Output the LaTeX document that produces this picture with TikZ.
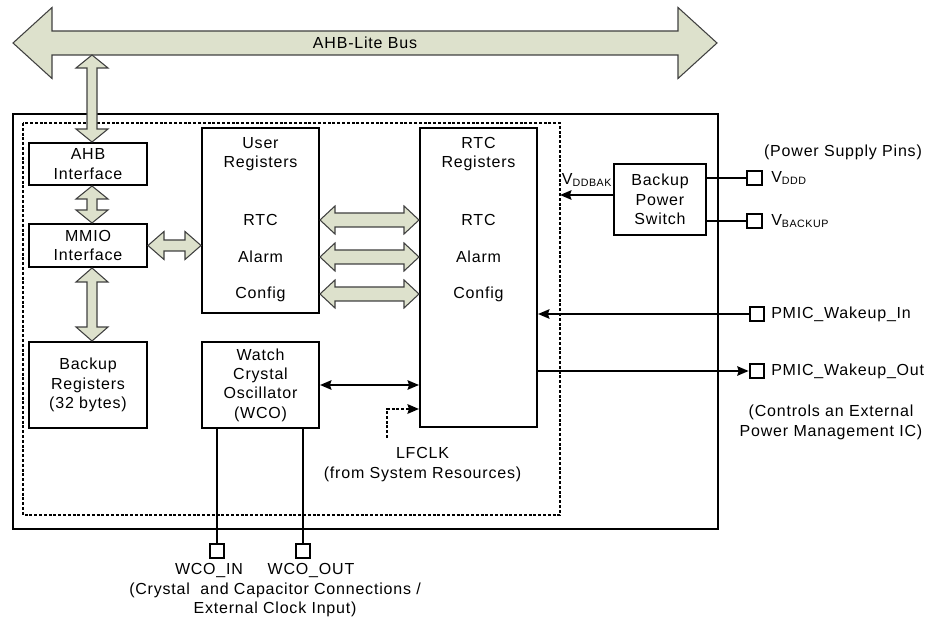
\documentclass[tikz,border=0pt]{standalone}
\usepackage{fontspec}
\setmainfont{Liberation Sans}[LetterSpace=5.0]
\usetikzlibrary{arrows.meta,positioning,calc}

% wide two-headed bus arrows (left/top point, right/bottom point, shaft half, head half, head length)
\newcommand{\fathor}[5]{%
  \path (#1) coordinate (fl) (#2) coordinate (fr);
  \draw[fatarr] (fl) -- ($(fl)+(#5,-#4)$) -- ($(fl)+(#5,-#3)$) -- ($(fr)+(-#5,-#3)$)
    -- ($(fr)+(-#5,-#4)$) -- (fr) -- ($(fr)+(-#5,#4)$) -- ($(fr)+(-#5,#3)$)
    -- ($(fl)+(#5,#3)$) -- ($(fl)+(#5,#4)$) -- cycle;}
\newcommand{\fatver}[5]{%
  \path (#1) coordinate (ft) (#2) coordinate (fb);
  \draw[fatarr] (ft) -- ($(ft)+(#4,#5)$) -- ($(ft)+(#3,#5)$) -- ($(fb)+(#3,-#5)$)
    -- ($(fb)+(#4,-#5)$) -- (fb) -- ($(fb)+(-#4,-#5)$) -- ($(fb)+(-#3,-#5)$)
    -- ($(ft)+(-#3,#5)$) -- ($(ft)+(-#4,#5)$) -- cycle;}

\begin{document}
\begin{tikzpicture}[x=0.75pt,y=-0.75pt,
    font=\fontsize{12}{14.5}\selectfont,
    blk/.style={draw,line width=1.5pt,inner sep=0pt,align=center},
    padbox/.style={draw,line width=1.5pt,inner sep=0pt,minimum width=11pt,minimum height=10.5pt},
    wire/.style={line width=1.5pt},
    tip/.style={-{Stealth[length=8.5pt,width=7pt,inset=1pt]}},
    tips/.style={{Stealth[length=8.5pt,width=7pt,inset=1pt]}-{Stealth[length=8.5pt,width=7pt,inset=1pt]}},
    dotline/.style={line width=2pt,dash pattern=on 2.2pt off 1.4pt},
    fatarr/.style={fill=busgreen,draw=black!75,line width=0.8pt,line join=miter},
    lbl/.style={align=center,inner sep=0pt}]
    \definecolor{busgreen}{RGB}{221,225,204}
    \useasboundingbox (0,0) rectangle (928,620);

    % outer block and dotted backup domain
    \draw[wire] (13,114) rectangle (718,529);
    \draw[dotline] (23,123) rectangle (560,515);
    \coordinate (dotNE) at (560,123);

    % blocks
    \node[blk,minimum width=88.5pt,minimum height=31.5pt] (ahb) at (88,164) {AHB\\Interface};
    \node[blk,minimum width=88.5pt,minimum height=32.25pt] (mmio) at (88,245.5) {MMIO\\Interface};
    \node[blk,minimum width=88.5pt,minimum height=64.5pt] (bkreg) at (88,385) {Backup\\Registers\\(32 bytes)};
    \node[blk,minimum width=87.75pt,minimum height=138.75pt] (user) at (260.5,220.5) {};
    \node[blk,minimum width=87.75pt,minimum height=224.25pt] (rtc) at (478.5,277.5) {};
    \node[blk,minimum width=87.75pt,minimum height=64.5pt] (wco) at (260.5,385) {Watch\\Crystal\\Oscillator\\(WCO)};
    \node[blk,minimum width=69pt,minimum height=53.25pt] (bps) at (660,199.5) {Backup\\Power\\Switch};

    % register texts
    \node[lbl] (uhead) at (260.5,154) {User\\Registers};
    \node[lbl] (urtc) at (260.5,220) {RTC};
    \node[lbl] (ualarm) at (260.5,257) {Alarm};
    \node[lbl] (ucfg) at (260.5,294) {Config};
    \node[lbl] (rhead) at (478.5,154) {RTC\\Registers};
    \node[lbl] (rrtc) at (478.5,220) {RTC};
    \node[lbl] (ralarm) at (478.5,257) {Alarm};
    \node[lbl] (rcfg) at (478.5,294) {Config};

    % AHB-Lite bus
    \coordinate (busL) at (13,43);
    \coordinate (busR) at (717,43);
    \coordinate (spine) at (92,0);
    \fathor{busL}{busR}{12}{35.5}{39}
    \node[lbl] (bus) at (365,43) {AHB-Lite Bus};
    \fatver{$(busL -| spine)+(0,12)$}{spine |- ahb.north}{5}{16}{13}
    \fatver{spine |- ahb.south}{spine |- mmio.north}{5}{16}{13}
    \fatver{spine |- mmio.south}{spine |- bkreg.north}{5}{16}{14}
    \fathor{mmio.east}{user.west |- mmio.east}{5.5}{14}{16}
    \fathor{user.east |- urtc}{rtc.west |- urtc}{7}{14}{15}
    \fathor{user.east |- ualarm}{rtc.west |- ualarm}{7}{14}{15}
    \fathor{user.east |- ucfg}{rtc.west |- ucfg}{7}{14}{15}

    % WCO and LFCLK
    \draw[wire,tips] (wco.east) -- (rtc.west |- wco.east);
    \coordinate (lfs) at (387,438);
    \draw[dotline,tip] (lfs) |- ($(rtc.south west)+(0,-19)$);
    \node[lbl] (lfclk) at (422.5,464.5) {LFCLK\\(from System Resources)};

    % WCO pads
    \node[padbox] (wcoin) at (217,551) {};
    \node[padbox] (wcoout) at (303,551) {};
    \draw[wire] (wco.south -| wcoin) -- (wcoin);
    \draw[wire] (wco.south -| wcoout) -- (wcoout);
    \node[lbl] (wcoinl) at (209,571) {WCO\_IN};
    \node[lbl] (wcooutl) at (311,571) {WCO\_OUT};
    \node[lbl] (wcotxt) at (275,600) {(Crystal\ \ and Capacitor Connections /\\External Clock Input)};

    % power pads
    \node[lbl] (pwrtxt) at (843,152) {(Power Supply Pins)};
    \node[padbox] (vddd) at (754.5,178) {};
    \node[padbox] (vbackup) at (754.5,221) {};
    \draw[wire] (bps.east |- vddd) -- (vddd);
    \draw[wire] (bps.east |- vbackup) -- (vbackup);
    \node[lbl,anchor=west] (vdddl) at (771,178) {V\textsubscript{DDD}};
    \node[lbl,anchor=west] (vbackupl) at (771,221) {V\textsubscript{BACKUP}};
    \coordinate (vbk) at ($(bps.west)+(0,-4.5)$);
    \draw[wire,tip] (vbk) -- (vbk -| dotNE);
    \node[lbl] (vddbak) at (587,180) {V\textsubscript{DDBAK}};

    % PMIC wakeup pads
    \node[padbox] (pwin) at (757,314) {};
    \node[padbox] (pwout) at (757,371) {};
    \draw[wire,tip] (pwin) -- (rtc.east |- pwin);
    \draw[wire,tip] (rtc.east |- pwout) -- (pwout);
    \node[lbl,anchor=west] (pwinl) at (771,314) {PMIC\_Wakeup\_In};
    \node[lbl,anchor=west] (pwoutl) at (771,371) {PMIC\_Wakeup\_Out};
    \node[lbl] (pmictxt) at (831,422.5) {(Controls an External\\Power Management IC)};
\end{tikzpicture}
\end{document}
